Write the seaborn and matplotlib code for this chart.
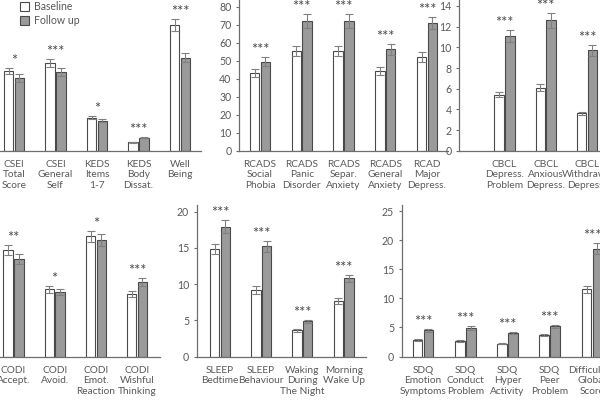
import matplotlib
matplotlib.use("Agg")
import matplotlib.pyplot as plt
import seaborn as sns
import pandas as pd

sns.set_theme(style="white")
plt.rcParams['font.family'] = ['Lato', 'DejaVu Sans']

groups = ["Baseline", "Follow up"]

# Panel 1: CSEI / KEDS / Well Being
p1_cats = ["CSEI\nTotal\nScore", "CSEI\nGeneral\nSelf", "KEDS\nItems\n1-7", "KEDS\nBody\nDissat.", "Well\nBeing"]
p1_base = [44.3, 48.9, 18.3, 4.7, 69.8]
p1_follow = [40.4, 43.7, 16.7, 7.2, 51.7]
p1_base_err = [1.8, 2.2, 0.8, 0.3, 3.3]
p1_follow_err = [2.0, 2.2, 0.7, 0.4, 2.4]
p1_stars = ["*", "***", "*", "***", "***"]

# Panel 2: RCADS
p2_cats = ["RCADS\nSocial\nPhobia", "RCADS\nPanic\nDisorder", "RCADS\nSepar.\nAnxiety", "RCADS\nGeneral\nAnxiety", "RCAD\nMajor\nDepress."]
p2_base = [43.0, 55.6, 55.6, 44.4, 51.9]
p2_follow = [49.4, 72.2, 72.2, 56.3, 70.8]
p2_base_err = [2.2, 2.8, 2.8, 2.3, 2.7]
p2_follow_err = [2.5, 3.9, 3.9, 2.9, 3.3]
p2_stars = ["***", "***", "***", "***", "***"]
p2_ticks = [0, 10, 20, 30, 40, 50, 60, 70, 80]

# Panel 3: CBCL
p3_cats = ["CBCL\nDepress.\nProblem", "CBCL\nAnxious\nDepress.", "CBCL\nWithdrawn\nDepress."]
p3_base = [5.4, 6.1, 3.6]
p3_follow = [11.1, 12.6, 9.7]
p3_base_err = [0.25, 0.35, 0.15]
p3_follow_err = [0.55, 0.7, 0.5]
p3_stars = ["***", "***", "***"]
p3_ticks = [0, 2, 4, 6, 8, 10, 12, 14]

# Panel 4: CODI
p4_cats = ["CODI\nAccept.", "CODI\nAvoid.", "CODI\nEmot.\nReaction", "CODI\nWishful\nThinking"]
p4_base = [14.7, 9.3, 16.6, 8.6]
p4_follow = [13.5, 8.9, 16.1, 10.3]
p4_base_err = [0.7, 0.5, 0.8, 0.4]
p4_follow_err = [0.7, 0.4, 0.8, 0.5]
p4_stars = ["**", "*", "*", "***"]

# Panel 5: SLEEP
p5_cats = ["SLEEP\nBedtime", "SLEEP\nBehaviour", "Waking\nDuring\nThe Night", "Morning\nWake Up"]
p5_base = [14.8, 9.2, 3.6, 7.7]
p5_follow = [17.9, 15.2, 4.85, 10.8]
p5_base_err = [0.7, 0.5, 0.15, 0.45]
p5_follow_err = [0.9, 0.7, 0.2, 0.5]
p5_stars = ["***", "***", "***", "***"]
p5_ticks = [0, 5, 10, 15, 20]

# Panel 6: SDQ
p6_cats = ["SDQ\nEmotion\nSymptoms", "SDQ\nConduct\nProblem", "SDQ\nHyper\nActivity", "SDQ\nPeer\nProblem", "Difficulties\nGlobal\nScore"]
p6_base = [2.9, 2.7, 2.2, 3.7, 11.6]
p6_follow = [4.5, 4.9, 4.1, 5.2, 18.6]
p6_base_err = [0.15, 0.15, 0.1, 0.2, 0.6]
p6_follow_err = [0.2, 0.3, 0.2, 0.25, 1.0]
p6_stars = ["***", "***", "***", "***", "***"]
p6_ticks = [0, 5, 10, 15, 20, 25]

W, H = 600, 400
fig = plt.figure(figsize=(6, 4), dpi=100)

TXT = '#595959'
EDGE = '#4a4a4a'
SPINE = '#6e6e6e'
FS = 7.6
XFS = 7.3


def add_panel(cats, base, follow, berr, ferr, stars, c0, spacing, xlo, xhi,
              top_px, bottom_px, ytop, ticks, legend=False, show_y=True):
    left = c0 + xlo * spacing
    right = c0 + xhi * spacing
    ax = fig.add_axes([left / W, 1 - bottom_px / H, (right - left) / W, (bottom_px - top_px) / H])
    df = pd.DataFrame({
        "measure": cats * 2,
        "group": [groups[0]] * len(cats) + [groups[1]] * len(cats),
        "value": list(base) + list(follow),
    })
    sns.barplot(data=df, x="measure", y="value", hue="group", order=cats, hue_order=groups,
                palette={"Baseline": "white", "Follow up": "#9a9a9a"}, saturation=1,
                edgecolor=EDGE, linewidth=0.8, width=0.52, gap=0.12, errorbar=None,
                legend=legend, ax=ax)
    for cont, err in zip(ax.containers, [berr, ferr]):
        xs = [b.get_x() + b.get_width() / 2 for b in cont]
        hs = [b.get_height() for b in cont]
        ax.errorbar(xs, hs, yerr=err, fmt='none', ecolor='#808080', elinewidth=0.8,
                    capsize=2.6, capthick=0.8, zorder=5)
    bcont, fcont = ax.containers[0], ax.containers[1]
    for i, s in enumerate(stars):
        xc = (bcont[i].get_x() + fcont[i].get_x() + fcont[i].get_width()) / 2
        top = max(base[i] + berr[i], follow[i] + ferr[i])
        ax.annotate(s, (xc, top), xytext=(0, 5.0), textcoords='offset points',
                    ha='center', va='center', fontsize=10.5, color='#4a4a4a')
    ax.set_xlim(xlo, xhi)
    ax.set_ylim(0, ytop)
    ax.set_yticks(ticks)
    ax.set_xlabel("")
    ax.set_ylabel("")
    ax.set_facecolor('none')
    for sp in ["top", "right"]:
        ax.spines[sp].set_visible(False)
    for sp in ["left", "bottom"]:
        ax.spines[sp].set_color(SPINE)
        ax.spines[sp].set_linewidth(0.9)
    ax.tick_params(axis='x', length=0, pad=6.5, labelsize=XFS, labelcolor=TXT)
    for lab in ax.get_xticklabels():
        lab.set_linespacing(1.22)
    ax.tick_params(axis='y', left=show_y, length=2.5, width=0.8, color=SPINE, pad=3,
                   labelleft=show_y, labelsize=FS, labelcolor=TXT)
    if not show_y:
        ax.spines["left"].set_visible(False)
    return ax


# top row
ax1 = add_panel(p1_cats, p1_base, p1_follow, p1_base_err, p1_follow_err, p1_stars,
                14, 41.5, -0.5, 4.5, 0, 150.7, 83.7, p2_ticks, legend=True, show_y=False)
ax2 = add_panel(p2_cats, p2_base, p2_follow, p2_base_err, p2_follow_err, p2_stars,
                260, 41.75, -0.5, 4.5, 0, 150.7, 83.7, p2_ticks)
ax3 = add_panel(p3_cats, p3_base, p3_follow, p3_base_err, p3_follow_err, p3_stars,
                504.5, 41.25, -1.1, 2.6, 0, 150.7, 14.58, p3_ticks)
# bottom row
ax4 = add_panel(p4_cats, p4_base, p4_follow, p4_base_err, p4_follow_err, p4_stars,
                13.5, 41.2, -0.5, 3.56, 205, 356.5, 20.93, p5_ticks, show_y=False)
ax5 = add_panel(p5_cats, p5_base, p5_follow, p5_base_err, p5_follow_err, p5_stars,
                220, 41.2, -0.566, 3.54, 205, 356.5, 20.93, p5_ticks)
ax6 = add_panel(p6_cats, p6_base, p6_follow, p6_base_err, p6_follow_err, p6_stars,
                423, 42.25, -0.504, 4.5, 205, 356.5, 26.1, p6_ticks)

handles, labels = ax1.get_legend_handles_labels()
if ax1.get_legend() is not None:
    ax1.get_legend().remove()
ax1.legend(handles, labels, loc='upper left', bbox_to_anchor=(20 / W, 1 - 1 / H),
           bbox_transform=fig.transFigure, frameon=False, fontsize=FS,
           handlelength=0.85, handleheight=0.95, handletextpad=0.45, labelspacing=0.3,
           borderpad=0, borderaxespad=0, labelcolor=TXT)

fig.savefig("out.png", dpi=100)
